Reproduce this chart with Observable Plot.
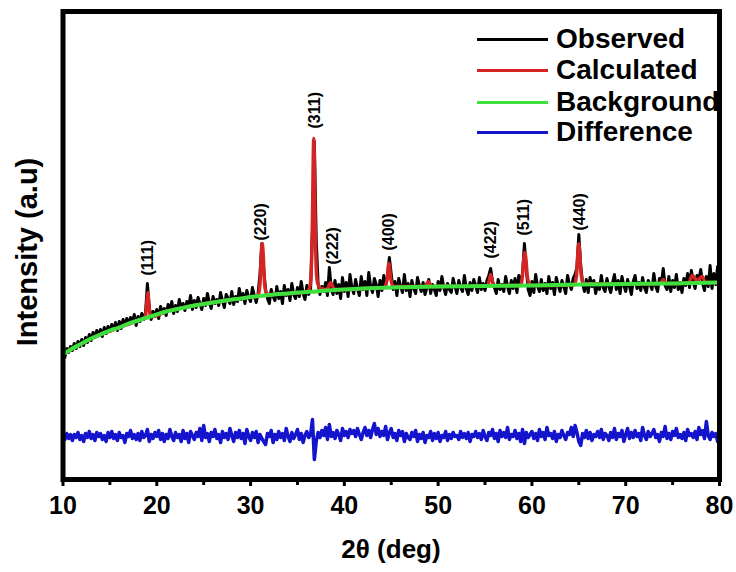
<!DOCTYPE html>
<html><head><meta charset="utf-8">
<script src="https://cdn.jsdelivr.net/npm/d3@7"></script>
<script src="https://cdn.jsdelivr.net/npm/@observablehq/plot@0.6"></script>
<style>
body{margin:0;background:#fff;}
#wrap{position:relative;width:736px;height:572px;font-family:"Liberation Sans",Arial,sans-serif;}
.lg{position:absolute;left:477px;height:30px;display:flex;align-items:center;font-weight:bold;font-size:28px;color:#000;white-space:nowrap;}
.lg span.ln{display:inline-block;width:71px;height:3px;margin-right:8px;}
#chart{position:absolute;left:0;top:0;}
</style></head>
<body>
<div id="wrap">
  <div id="legend"></div>
  <div id="chart"></div>
</div>
<script>
// 2θ sampling grid of the observed / difference patterns
const scanStart = 10, scanStep = 0.2;

// Observed intensity (a.u.), one value per 0.2°, 10.0 → 80.0
const observed = [
128,122,131,127,133, 129,136,131,138,133, 140,134,142,137,145, 139,147,142,149,144,
150,143,152,146,153, 148,155,150,157,149, 158,151,160,154,161, 155,162,157,165,154,
163,158,166,160,167, 196,172,160,168,163, 170,161,173,166,171, 164,175,169,178,166,
174,168,180,171,176, 169,178,173,184,170, 179,172,182,176,170, 181,174,186,177,171,
183,176,180,174,187, 179,172,185,181,176, 188,175,183,178,191, 180,186,176,189,182,
178,192,184,177,186, 205,236,210,190,181, 176,190,183,179,193, 181,188,176,194,184,
190,179,196,185,181, 192,183,198,186,180, 194,185,190,250,338, 240,196,185,193,188,
197,184,212,191,185, 199,186,195,181,202, 188,197,183,205,192, 186,200,191,184,203,
190,198,184,207,193, 187,201,195,183,199, 189,204,194,203,222, 205,190,198,184,201,
193,187,205,189,196, 183,199,191,186,202, 194,188,197,185,192, 200,186,195,190,184,
198,189,203,192,185, 196,190,187,201,193, 186,199,192,188,204, 191,185,197,189,200,
194,187,202,190,196, 189,199,204,211,198, 192,186,200,190,195, 188,203,193,186,199,
191,201,187,204,196, 206,236,210,190,184, 198,187,205,193,188, 200,189,196,186,203,
191,197,185,202,194, 188,199,193,186,204, 195,190,201,205,212, 245,214,196,188,200,
187,202,193,199,186, 196,190,204,192,188, 201,193,187,197,205, 190,199,186,203,194,
188,200,193,185,198, 204,191,197,189,202, 192,187,199,195,190, 206,193,188,201,196,
211,194,190,203,188, 199,192,205,190,197, 187,201,194,206,192, 209,198,191,204,200,
210,196,189,203,193, 214,191,206,195,213, 197
];

// Difference curve (a.u.), same grid
const difference = [
44,40,46,41,45, 39,45,42,47,40, 44,38,46,42,48, 41,45,39,47,43, 46,40,44,38,47,
42,48,41,45,39, 47,42,44,37,46, 43,49,41,45,40, 46,39,48,42,44, 50,38,45,41,47,
43,49,40,46,38, 45,41,50,43,39, 47,42,45,38,49, 41,46,37,48,44, 40,47,43,51,39,
54,42,46,38,47, 43,50,41,45,37, 48,42,46,40,51, 44,38,47,42,49, 41,46,36,50,43,
39,47,42,48,37, 45,41,38,35,46, 43,49,37,45,40, 48,42,46,39,51, 43,38,47,41,45,
50,40,46,37,44, 48,42,45,60,20, 38,47,42,49,44, 52,40,55,43,47, 41,49,45,39,51,
44,48,42,50,46, 49,43,51,45,40, 47,52,44,49,42, 50,56,45,51,43, 48,44,53,40,47,
51,42,46,39,49, 44,48,38,46,42, 40,47,43,49,38, 45,41,47,37,44, 42,48,39,46,41,
47,38,44,42,48, 39,45,41,47,43, 44,40,48,42,46, 41,47,38,45,43, 48,42,46,40,49,
43,39,47,44,50, 41,46,38,49,43, 47,42,52,40,45, 43,49,41,46,38, 50,36,47,42,45,
48,41,46,39,50, 43,47,40,52,44, 46,41,48,38,45, 42,49,44,40,47, 45,52,43,54,47,
38,34,46,42,49, 41,47,39,45,43, 48,42,50,40,46, 44,39,47,42,51, 40,46,43,49,38,
45,51,41,47,42, 49,43,46,39,52, 44,40,48,43,46, 50,42,45,38,47, 43,53,41,46,40,
48,44,51,42,45, 41,47,39,50,44, 46,42,48,40,52, 45,49,41,58,44, 40,47,43,46,38, 42
];

// Calculated (Rietveld fit) pattern
const calcX = [10,12,14,16,18,18.6,18.8,18.95,19.05,19.15,19.3,19.6,21,24,27,30,30.8,31.0,31.15,31.25,31.35,31.5,31.7,32,34,36,36.3,36.45,36.58,36.74,36.9,37.03,37.2,37.5,38.2,38.4,38.55,38.7,39,40,42,44.3,44.55,44.75,44.95,45.2,48.6,48.95,49.3,55.2,55.45,55.6,55.75,56,58.8,59.0,59.15,59.25,59.35,59.5,59.7,60,64.5,64.75,64.92,65.0,65.08,65.25,65.5,70,73.7,74.0,74.3,76.7,77.1,77.6,78.15,78.5,80];
const calcY = [125,136,145,152,159,161,164,178,187,176,165,163,168,174,178.5,182.5,184,195,226,236,224,195,186,185,186,187.5,192,205,250,341,250,205,195,191,190,195,197,194,190,190,191,192,200,216,201,193,193,198,193,193.5,199,205,199,194,194,205,222,227,221,204,196,194,194.5,204,230,236,229,205,196,195.5,196,200,196,196.5,204,199,203,197,197];

// Background
const bgX = [10,11,12,13,14,15,16,17,18,19,20,21,22,23,24,25,26,27,28,29,30,31,32,33,34,35,36,37,38,39,40,42,45,50,55,60,65,70,75,80];
const bgY = [125,131,136,141,145,149,152,156,159,162,165,168,170,172,174,175.5,177,178.5,180,181,182.5,183.5,184.5,185.5,186,187,187.5,188,189,189.5,190,191,192,193,193.5,194,195,195.5,196,197];

// Miller-index peak labels
const hkl = ["(111)","(220)","(311)","(222)","(400)","(422)","(511)","(440)"];
const hklX = [19.0,31.1,36.9,38.8,44.7,55.6,59.1,65.1];
const hklY = [204,239,351,215,229,221,244,249];

// Axis ticks
const majorTicks = [10,20,30,40,50,60,70,80];
const minorTicks = [15,25,35,45,55,65,75];

// Legend
const seriesNames = ["Observed","Calculated","Background","Difference"];
const seriesColors = ["#000000","#d42424","#3ee03e","#1414cc"];

const obsData = observed.map((v,i)=>({x: scanStart + i*scanStep, y: v}));
const diffData = difference.map((v,i)=>({x: scanStart + i*scanStep, y: v}));
const calcData = calcX.map((x,i)=>({x, y: calcY[i]}));
const bgData = bgX.map((x,i)=>({x, y: bgY[i]}));
const lblData = hkl.map((t,i)=>({x: hklX[i], y: hklY[i], t}));

const font = '"Liberation Sans", Arial, sans-serif';

const chart = Plot.plot({
  width: 736, height: 572,
  marginLeft: 62.5, marginRight: 17, marginTop: 11, marginBottom: 93,
  style: {background: "transparent", fontFamily: font},
  x: {domain: [10, 80]},
  y: {domain: [0, 468], axis: null},
  marks: [
    Plot.line(diffData, {x: "x", y: "y", stroke: seriesColors[3], strokeWidth: 3.5}),
    Plot.line(obsData, {x: "x", y: "y", stroke: seriesColors[0], strokeWidth: 3}),
    Plot.line(calcData, {x: "x", y: "y", stroke: seriesColors[1], strokeWidth: 3.5, curve: "monotone-x"}),
    Plot.line(bgData, {x: "x", y: "y", stroke: seriesColors[2], strokeWidth: 4, curve: "monotone-x"}),
    Plot.text(lblData, {x: "x", y: "y", text: "t", rotate: -90, textAnchor: "start", fontSize: 16, fontWeight: "bold", fill: "#000"}),
    Plot.frame({stroke: "#000", strokeWidth: 5}),
    Plot.axisX({ticks: minorTicks, tickSize: 6, strokeWidth: 3, tickFormat: () => "", label: null}),
    Plot.axisX({ticks: majorTicks, tickSize: 7, strokeWidth: 3, tickPadding: 10, fontSize: 25, fontWeight: "bold", label: null, tickFormat: d => String(d)})
  ]
});
document.getElementById("chart").appendChild(chart);

const svg = d3.select(chart);
svg.append("text")
  .attr("transform", "translate(27,252) rotate(-90)")
  .attr("text-anchor", "middle").attr("dominant-baseline", "central")
  .style("font", `bold 29px ${font}`).text("Intensity (a.u)");
svg.append("text")
  .attr("x", 391).attr("y", 558)
  .attr("text-anchor", "middle")
  .style("font", `bold 26px ${font}`).text("2θ (deg)");

// legend (behind the svg so the frame overlays it)
const centers = [39, 70, 102, 132];
const lg = d3.select("#legend");
seriesNames.forEach((name, i) => {
  const row = lg.append("div").attr("class", "lg").style("top", (centers[i] - 15) + "px");
  row.append("span").attr("class", "ln").style("background", seriesColors[i]);
  row.append("span").text(name);
});
</script>
</body></html>
